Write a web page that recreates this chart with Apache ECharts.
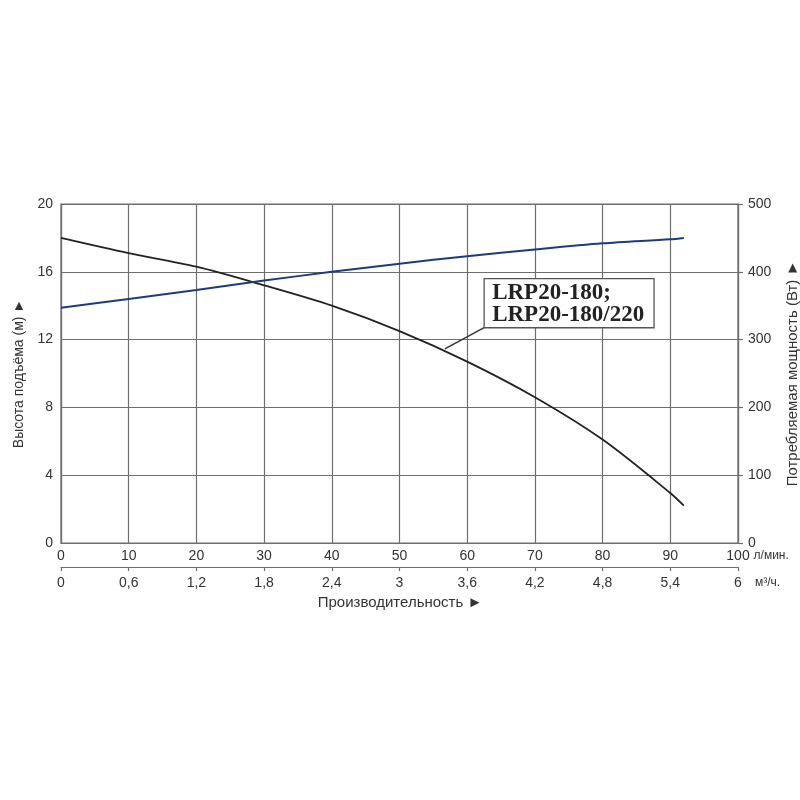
<!DOCTYPE html>
<html><head><meta charset="utf-8">
<script src="https://cdn.jsdelivr.net/npm/echarts@6/dist/echarts.min.js"></script>
<style>html,body{margin:0;padding:0;background:#fff}#c{width:800px;height:800px}</style>
</head><body><div id="c"></div>
<script>
// Flow rate (л/мин.)
const flow = [0, 10, 20, 30, 40, 50, 60, 70, 80, 90, 92];
// Head (м)
const head = [18.0, 17.1, 16.3, 15.2, 14.0, 12.5, 10.7, 8.6, 6.1, 2.95, 2.2];
// Power consumption (Вт)
const power = [347, 360, 373, 387, 400, 412, 423, 433, 442, 448, 450];
// Axis ranges
const flowMax = 100, flowStep = 10;
const m3Max = 6, m3Step = 0.6;
const headMax = 20, headStep = 4;
const powerMax = 500, powerStep = 100;
// Annotation text and its anchors (data units: flow, head)
const modelLines = ['LRP20-180;', 'LRP20-180/220'];
const boxTopLeft = [62.5, 15.6];
const boxBottomRight = [87.6, 12.7];
const leaderEnd = [56.7, 11.45];

const FONT = 'Liberation Sans';
const TXT = '#333';
const GRIDC = '#6e6e6e';

const chart = echarts.init(document.getElementById('c'), null, {renderer: 'canvas'});
const headData = flow.map((f, i) => [f, head[i]]);
const powerData = flow.map((f, i) => [f, power[i]]);

chart.setOption({
  backgroundColor: '#ffffff',
  animation: false,
  title: {
    text: 'Производительность ►',
    left: 'center', top: 590,
    textStyle: {fontFamily: FONT, fontSize: 15, fontWeight: 'normal', color: TXT}
  },
  grid: {left: 61, right: 62, top: 204, bottom: 257, show: true, borderColor: GRIDC, borderWidth: 1.2,
    backgroundColor: 'transparent', containLabel: false, outerBoundsMode: 'none'},
  xAxis: [
    {
      type: 'value', min: 0, max: flowMax, interval: flowStep, position: 'bottom',
      name: 'л/мин.', nameLocation: 'end', nameGap: 15,
      nameTextStyle: {fontFamily: FONT, fontSize: 12, color: TXT, verticalAlign: 'top', padding: [7, 0, 0, 0]},
      axisLine: {show: true, onZero: false, lineStyle: {color: GRIDC, width: 1.2}},
      axisTick: {show: false},
      axisLabel: {fontFamily: FONT, fontSize: 14, color: TXT, margin: 6},
      splitLine: {show: true, lineStyle: {color: GRIDC, width: 1.2}}
    },
    {
      type: 'value', min: 0, max: m3Max, interval: m3Step, position: 'bottom', offset: 24,
      name: 'м³/ч.', nameLocation: 'end', nameGap: 17,
      nameTextStyle: {fontFamily: FONT, fontSize: 12, color: TXT, verticalAlign: 'top', padding: [10, 0, 0, 0]},
      axisLine: {show: true, onZero: false, lineStyle: {color: GRIDC, width: 1.2}},
      axisTick: {show: true, length: 4, lineStyle: {color: GRIDC, width: 1.2}},
      axisLabel: {fontFamily: FONT, fontSize: 14, color: TXT, margin: 9,
        formatter: v => String(Math.round(v * 10) / 10).replace('.', ',')},
      splitLine: {show: false}
    }
  ],
  yAxis: [
    {
      type: 'value', min: 0, max: headMax, interval: headStep, position: 'left',
      name: 'Высота подъёма (м) ►', nameLocation: 'middle', nameGap: 32, nameRotate: 90,
      nameTextStyle: {fontFamily: FONT, fontSize: 14, color: TXT},
      axisLine: {show: true, onZero: false, lineStyle: {color: GRIDC, width: 1.2}},
      axisTick: {show: false},
      axisLabel: {fontFamily: FONT, fontSize: 14, color: TXT, margin: 8},
      splitLine: {show: true, lineStyle: {color: GRIDC, width: 1.2}}
    },
    {
      type: 'value', min: 0, max: powerMax, interval: powerStep, position: 'right',
      name: 'Потребляемая мощность (Вт) ►', nameLocation: 'middle', nameGap: 47, nameRotate: 90,
      nameTextStyle: {fontFamily: FONT, fontSize: 15, color: TXT},
      axisLine: {show: true, onZero: false, lineStyle: {color: GRIDC, width: 1.2}},
      axisTick: {show: true, length: 5, lineStyle: {color: GRIDC, width: 1.2}},
      axisLabel: {fontFamily: FONT, fontSize: 14, color: TXT, margin: 10},
      splitLine: {show: false}
    }
  ],
  series: [
    {
      name: 'Напор', type: 'line', xAxisIndex: 0, yAxisIndex: 0, data: headData,
      smooth: 0.3, symbol: 'none', lineStyle: {color: '#222222', width: 1.8}, z: 3
    },
    {
      name: 'Мощность', type: 'line', xAxisIndex: 0, yAxisIndex: 1, data: powerData,
      smooth: 0.3, symbol: 'none', lineStyle: {color: '#1c3c7c', width: 2}, z: 3
    }
  ]
});

const tl = chart.convertToPixel({gridIndex: 0}, boxTopLeft);
const br = chart.convertToPixel({gridIndex: 0}, boxBottomRight);
const le = chart.convertToPixel({gridIndex: 0}, leaderEnd);
chart.setOption({
  graphic: [
    {type: 'line', z: 10, shape: {x1: tl[0], y1: br[1], x2: le[0], y2: le[1]},
      style: {stroke: '#333', lineWidth: 1.4}},
    {type: 'rect', z: 10, shape: {x: tl[0], y: tl[1], width: br[0] - tl[0], height: br[1] - tl[1]},
      style: {fill: '#ffffff', stroke: '#555', lineWidth: 1.3}},
    {type: 'text', z: 11, x: tl[0] + 8, y: tl[1] + 3,
      style: {text: modelLines.join('\n'), font: 'bold 23px "Liberation Serif"', fill: '#222', lineHeight: 22}}
  ]
});
</script>
</body></html>
